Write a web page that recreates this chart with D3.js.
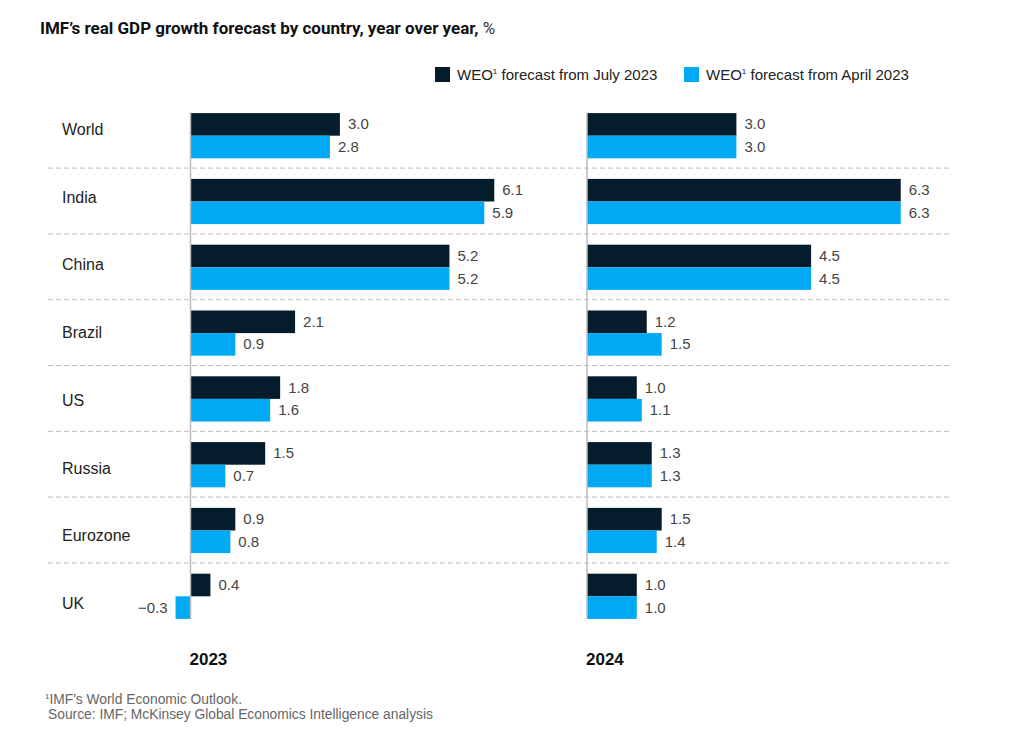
<!DOCTYPE html>
<html>
<head>
<meta charset="utf-8">
<script src="https://cdn.jsdelivr.net/npm/d3@7"></script>
<style>
  html, body { margin: 0; padding: 0; background: #fff; }
  svg { display: block; font-family: "Liberation Sans", Arial, sans-serif; }
</style>
</head>
<body>
<svg id="chart" width="1024" height="733"></svg>
<script>
// ---- data ----
const categories = ["World", "India", "China", "Brazil", "US", "Russia", "Eurozone", "UK"];
const years = ["2023", "2024"];
const july2023 = [3.0, 6.1, 5.2, 2.1, 1.8, 1.5, 0.9, 0.4];
const april2023 = [2.8, 5.9, 5.2, 0.9, 1.6, 0.7, 0.8, -0.3];
const july2024 = [3.0, 6.3, 4.5, 1.2, 1.0, 1.3, 1.5, 1.0];
const april2024 = [3.0, 6.3, 4.5, 1.5, 1.1, 1.3, 1.4, 1.0];
const seriesNames = ["WEO¹ forecast from July 2023", "WEO¹ forecast from April 2023"];
const colors = ["#051c2c", "#00a9f4"];

const svg = d3.select("#chart");

// title
const title = svg.append("text").attr("x", 40).attr("y", 34)
  .attr("font-size", 17).attr("fill", "#111").attr("font-family", "Roboto, 'Liberation Sans', sans-serif");
title.append("tspan").attr("font-weight", "bold").text("IMF’s real GDP growth forecast by country, year over year, ");
title.append("tspan").attr("font-weight", "normal").attr("fill", "#333").text("%");

// legend
const legendX = [435, 684];
seriesNames.forEach((name, i) => {
  const g = svg.append("g").attr("transform", `translate(${legendX[i]},67)`);
  g.append("rect").attr("width", 15).attr("height", 15).attr("fill", colors[i]);
  const t = g.append("text").attr("x", 22).attr("y", 13).attr("font-size", 15).attr("fill", "#222");
  t.append("tspan").text("WEO");
  t.append("tspan").attr("font-size", 8).attr("dy", -6).text("1");
  t.append("tspan").attr("dy", 6).text(" " + name.replace("WEO¹ ", ""));
});

// y scales
const step = 65.8;
const y = d3.scaleBand().domain(categories).range([102.3, 102.3 + step * categories.length]);
const yLabel = d3.scaleBand().domain(categories).range([97, 97 + 67.7 * categories.length]);
const barH = 22.6;

// dashed dividers
for (let i = 1; i < categories.length; i++) {
  const yy = y(categories[i]);
  svg.append("line").attr("x1", 48).attr("x2", 950).attr("y1", yy).attr("y2", yy)
    .attr("stroke", "#bdbdbd").attr("stroke-width", 1).attr("stroke-dasharray", "5,3");
}

// category labels
svg.append("g").selectAll("text").data(categories).join("text")
  .attr("x", 62).attr("y", d => yLabel(d) + yLabel.bandwidth() / 2)
  .attr("dominant-baseline", "middle")
  .attr("font-size", 16).attr("fill", "#222").text(d => d);

// panels
const unit = 49.8;
const panels = [
  { year: years[0], x0: 190.5, a: july2023, b: april2023 },
  { year: years[1], x0: 587, a: july2024, b: april2024 }
];

panels.forEach(p => {
  const x = d3.scaleLinear().domain([0, 1]).range([p.x0, p.x0 + unit]);
  const g = svg.append("g");
  const rows = categories.map((c, i) => ({ c, vals: [p.a[i], p.b[i]] }));
  rows.forEach(r => {
    const cy = y(r.c) + y.bandwidth() / 2 + 0.5;
    r.vals.forEach((v, j) => {
      const top = cy - barH + j * barH;
      g.append("rect")
        .attr("x", Math.min(x(0), x(v))).attr("y", top)
        .attr("width", Math.abs(x(v) - x(0))).attr("height", barH)
        .attr("fill", colors[j]);
      g.append("text")
        .attr("x", v >= 0 ? x(v) + 8 : x(v) - 8)
        .attr("y", top + barH / 2 + 1)
        .attr("dominant-baseline", "middle")
        .attr("text-anchor", v >= 0 ? "start" : "end")
        .attr("font-size", 15).attr("fill", "#444")
        .text(d3.format(".1f")(v).replace("-", "−"));
    });
  });
  // zero axis line
  g.append("line").attr("x1", x(0)).attr("x2", x(0))
    .attr("y1", y(categories[0]) + 10).attr("y2", y(categories[categories.length - 1]) + y.bandwidth() - 10)
    .attr("stroke", "#bbbbbb").attr("stroke-width", 1.5);
  // year label
  svg.append("text").attr("x", p.x0 - 1).attr("y", 665)
    .attr("font-size", 17).attr("font-weight", "bold").attr("fill", "#111").text(p.year);
});

// footnotes
const fn = svg.append("text").attr("x", 45).attr("y", 704).attr("font-size", 13.8).attr("fill", "#666");
fn.append("tspan").attr("font-size", 8).attr("dy", -5).text("1");
fn.append("tspan").attr("dy", 5).text("IMF's World Economic Outlook.");
svg.append("text").attr("x", 48).attr("y", 719).attr("font-size", 13.8).attr("fill", "#666")
  .text("Source: IMF; McKinsey Global Economics Intelligence analysis");
</script>
</body>
</html>
